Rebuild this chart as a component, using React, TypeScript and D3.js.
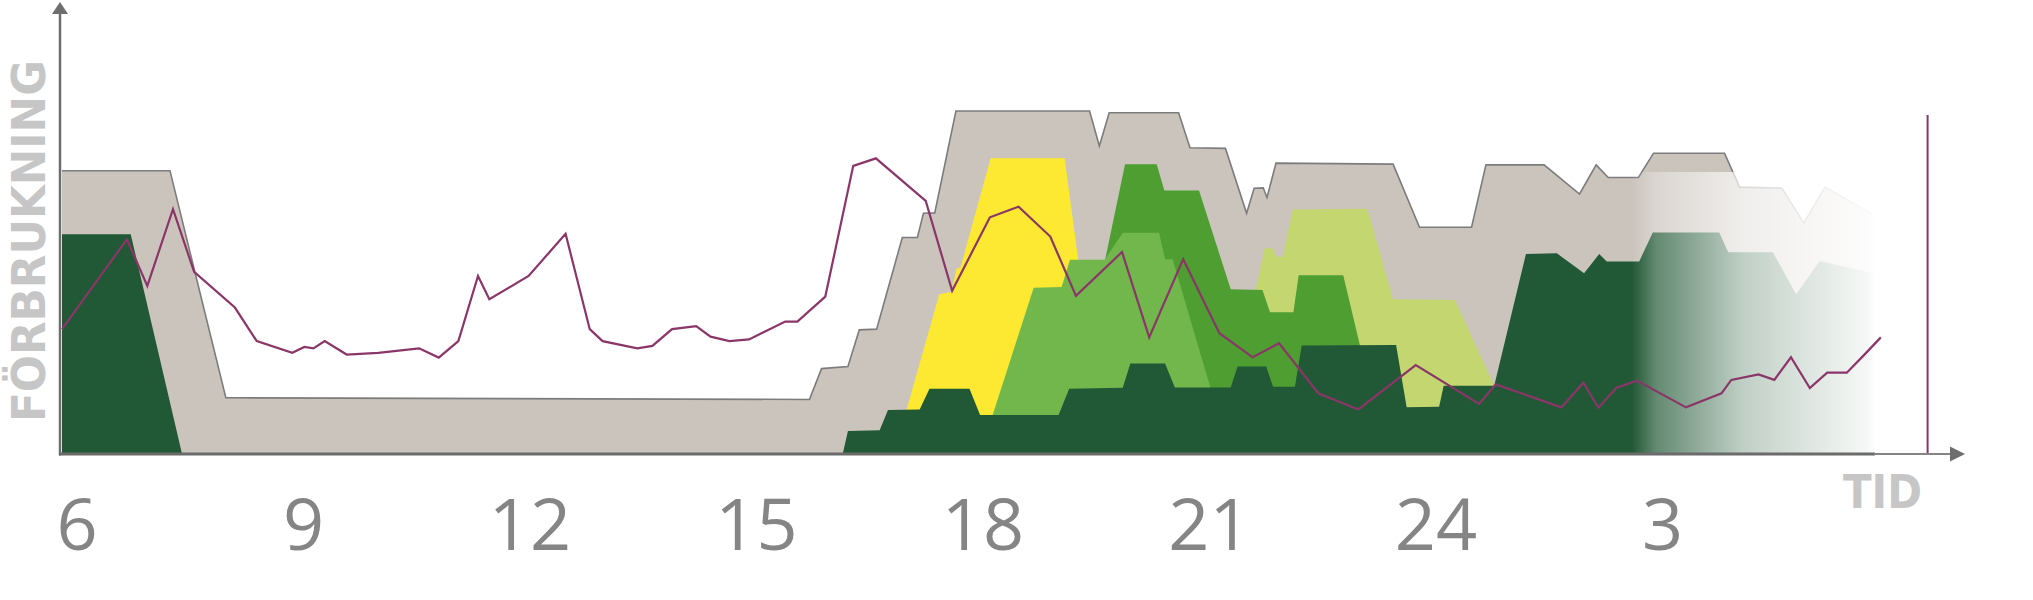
import React from 'react';
import * as d3 from 'd3';

type Pt = [number, number];

// hour of day (6 .. 30 = 6 next morning), consumption level (0..100)
const hourTicks = [6, 9, 12, 15, 18, 21, 24, 27];
const hourLabels = ['6', '9', '12', '15', '18', '21', '24', '3'];

const totalCapacity: Pt[] = [
  [6, 82.6], [7.43, 82.6], [8.17, 16.4], [15.9, 15.9], [16.06, 24.9], [16.41, 25.5],
  [16.56, 36.2], [16.79, 36.4], [17.13, 63.1], [17.33, 63.1], [17.41, 70.2], [17.56, 70.3],
  [17.84, 100], [19.61, 100], [19.74, 89.8], [19.87, 99.5], [20.79, 99.5], [20.94, 89.3],
  [21.41, 89.1], [21.69, 70.2], [21.79, 77.5], [21.91, 77.6], [21.96, 74.8], [22.08, 84.8],
  [23.63, 84.5], [23.98, 66.1], [24.67, 66.1], [24.86, 84.3], [25.63, 84.3], [26.1, 75.8],
  [26.32, 84.3], [26.48, 80.6], [26.88, 80.6], [27.08, 87.7], [28.02, 87.7], [28.22, 77.8],
  [28.78, 77.5], [29.07, 67.3], [29.35, 77.8], [30, 69.7],
];

const yellowSeries: Pt[] = [
  [17.02, 0], [17.62, 46.6], [17.78, 47.3], [17.85, 54.1], [17.9, 54.3], [18.3, 86.2],
  [19.28, 86.2], [19.46, 56.6], [19.8, 0],
];

const lightGreenSeries: Pt[] = [
  [21.34, 0], [21.81, 48], [21.93, 60], [22.04, 60], [22.08, 57.5], [22.17, 57.5],
  [22.3, 71.3], [23.29, 71.5], [23.63, 45.1], [24.45, 44.9], [24.97, 19.9], [25.05, 0],
];

const greenSeries: Pt[] = [
  [19.28, 0], [20.08, 84.5], [20.5, 84.5], [20.6, 76.8], [21.06, 76.8], [21.48, 48],
  [21.9, 47.8], [22.0, 41.3], [22.31, 41.3], [22.38, 52.1], [22.97, 52.1], [23.19, 31.8],
  [23.54, 0],
];

const midGreenSeries: Pt[] = [
  [18.16, 0], [18.87, 48.5], [19.24, 48.7], [19.35, 56.6], [19.81, 56.6], [20.05, 64.5],
  [20.53, 64.5], [20.61, 56.8], [20.71, 56.8], [21.21, 19.4], [21.48, 0],
];

const darkGreenSeries: Pt[] = [
  [6, 64.1], [6.91, 64.1], [7.59, 0], [16.34, 0], [16.41, 6.7], [16.83, 6.9], [16.94, 12.8],
  [17.36, 13], [17.49, 19], [18.02, 19], [18.16, 11.4], [19.2, 11.4], [19.34, 19],
  [20.05, 19.3], [20.15, 26.4], [20.61, 26.4], [20.74, 19.4], [21.48, 19.4], [21.57, 25.5],
  [21.95, 25.5], [22.04, 19.6], [22.33, 19.6], [22.42, 31.6], [23.67, 31.8], [23.81, 13.6],
  [24.24, 13.8], [24.3, 19.9], [24.97, 19.9], [25.39, 58.3], [25.8, 58.5], [26.16, 52.7],
  [26.36, 58.3], [26.46, 56.1], [26.89, 56.1], [27.07, 64.6], [27.95, 64.6], [28.07, 58.8],
  [28.66, 58.8], [28.97, 46.6], [29.28, 56.3], [30, 52.7],
];

const consumptionLine: Pt[] = [
  [6, 36.4], [6.86, 62.6], [7.13, 49.0], [7.47, 71.4], [7.75, 53.1], [8.29, 42.7], [8.58, 32.9],
  [9.05, 29.5], [9.21, 31.2], [9.33, 30.8], [9.48, 32.9], [9.77, 29.0], [10.19, 29.5],
  [10.73, 30.8], [10.99, 28.1], [11.25, 32.9], [11.51, 51.9], [11.66, 45.1], [12.18, 51.9],
  [12.67, 64.2], [12.99, 36.4], [13.16, 32.9], [13.62, 30.8], [13.82, 31.5], [14.08, 36.4],
  [14.4, 37.3], [14.59, 34.2], [14.84, 32.9], [15.1, 33.4], [15.58, 38.6], [15.74, 38.6],
  [16.11, 45.9], [16.48, 84.0], [16.78, 86.2], [17.44, 73.8], [17.79, 47.6], [18.29, 69.0],
  [18.67, 72.1], [19.09, 63.4], [19.43, 46.1], [20.04, 58.9], [20.4, 34.0], [20.85, 56.8],
  [21.33, 35.2], [21.77, 28.2], [22.12, 32.3], [22.64, 17.7], [23.17, 13.0], [23.93, 25.9],
  [24.77, 14.6], [24.99, 20.3], [25.86, 13.6], [26.15, 20.8], [26.35, 13.5], [26.59, 19.3],
  [26.86, 21.4], [27.51, 13.6], [27.98, 17.7], [28.11, 21.6], [28.47, 23.2], [28.68, 21.6],
  [28.9, 28.2], [29.15, 19.2], [29.38, 23.7], [29.64, 23.7], [29.87, 28.9], [30.09, 34.0],
];

const markerHour = 30.71;
const markerLevel = 98.8;
const fadeFrom = 26.79;
const fadeTo = 30.02;
const fadeTop = 82.2;

const W = 2033;
const H = 600;

export default function App() {
  const x = d3.scaleLinear().domain([6, 30]).range([62, 1874]);
  const y = d3.scaleLinear().domain([0, 100]).range([454, 111]);

  const area = d3
    .area<Pt>()
    .x((d) => x(d[0]))
    .y0(y(0))
    .y1((d) => y(d[1]))
    .curve(d3.curveLinear);
  const line = d3
    .line<Pt>()
    .x((d) => x(d[0]))
    .y((d) => y(d[1]))
    .curve(d3.curveLinear);

  const layers: { data: Pt[]; color: string }[] = [
    { data: totalCapacity, color: '#cbc4bd' },
    { data: yellowSeries, color: '#fde931' },
    { data: lightGreenSeries, color: '#c4d66f' },
    { data: greenSeries, color: '#4e9e32' },
    { data: midGreenSeries, color: '#72b74c' },
    { data: darkGreenSeries, color: '#215835' },
  ];

  const fx0 = x(fadeFrom);
  const fx1 = x(fadeTo);
  const axisY = y(0);
  const axisX = x(6) - 2;

  return (
    <svg
      width={W}
      height={H}
      style={{ position: 'absolute', left: 0, top: 0, display: 'block', background: '#fff' }}
    >
      <defs>
        <linearGradient id="fade" gradientUnits="userSpaceOnUse" x1={fx0} x2={fx1} y1={0} y2={0}>
          <stop offset="0" stopColor="#fff" stopOpacity={0} />
          <stop offset="0.1" stopColor="#fff" stopOpacity={0.3} />
          <stop offset="0.23" stopColor="#fff" stopOpacity={0.45} />
          <stop offset="0.46" stopColor="#fff" stopOpacity={0.72} />
          <stop offset="0.75" stopColor="#fff" stopOpacity={0.86} />
          <stop offset="0.97" stopColor="#fff" stopOpacity={0.96} />
          <stop offset="1" stopColor="#fff" stopOpacity={1} />
        </linearGradient>
      </defs>

      {layers.map((l, i) => (
        <path key={i} d={area(l.data) || ''} fill={l.color} />
      ))}
      <path d={line(totalCapacity) || ''} fill="none" stroke="#7c7c7c" strokeWidth={1.6} />

      <rect x={fx0} y={y(fadeTop)} width={fx1 - fx0 + 2} height={axisY - y(fadeTop) - 1} fill="url(#fade)" />

      {/* axes */}
      <line x1={axisX} y1={14} x2={axisX} y2={axisY + 1.5} stroke="#6e6e6e" strokeWidth={2.5} />
      <polygon points={`${axisX - 8},14 ${axisX},2 ${axisX + 8},14`} fill="#6e6e6e" />
      <line x1={axisX - 1} y1={axisY} x2={x(30) + 1} y2={axisY} stroke="#6b6b6b" strokeWidth={3} />
      <line x1={x(30)} y1={axisY} x2={1953} y2={axisY} stroke="#858585" strokeWidth={2} />
      <polygon points={`1950,${axisY - 7.5} 1965,${axisY} 1950,${axisY + 7.5}`} fill="#6e6e6e" />

      <line
        x1={x(markerHour)}
        x2={x(markerHour)}
        y1={y(markerLevel)}
        y2={axisY - 1}
        stroke="#8a3668"
        strokeWidth={2}
      />
      <path d={line(consumptionLine) || ''} fill="none" stroke="#8a3668" strokeWidth={2.2} strokeLinejoin="miter" />

      {hourTicks.map((h, i) => (
        <text
          key={h}
          x={x(h) + 15}
          y={550}
          textAnchor="middle"
          fontFamily="'Open Sans', sans-serif"
          fontWeight={400}
          fontSize={72}
          fill="#858585"
        >
          {hourLabels[i]}
        </text>
      ))}

      <text
        transform="translate(44.5,422) rotate(-90)"
        fontFamily="'DejaVu Sans', sans-serif"
        fontWeight="bold"
        fontSize={46}
        fill="#c6c6c6"
        textLength={362}
        lengthAdjust="spacingAndGlyphs"
      >
        FÖRBRUKNING
      </text>
      <text
        x={1843}
        y={508}
        fontFamily="'DejaVu Sans', sans-serif"
        fontWeight="bold"
        fontSize={47}
        fill="#c6c6c6"
        textLength={79}
        lengthAdjust="spacingAndGlyphs"
      >
        TID
      </text>
    </svg>
  );
}
